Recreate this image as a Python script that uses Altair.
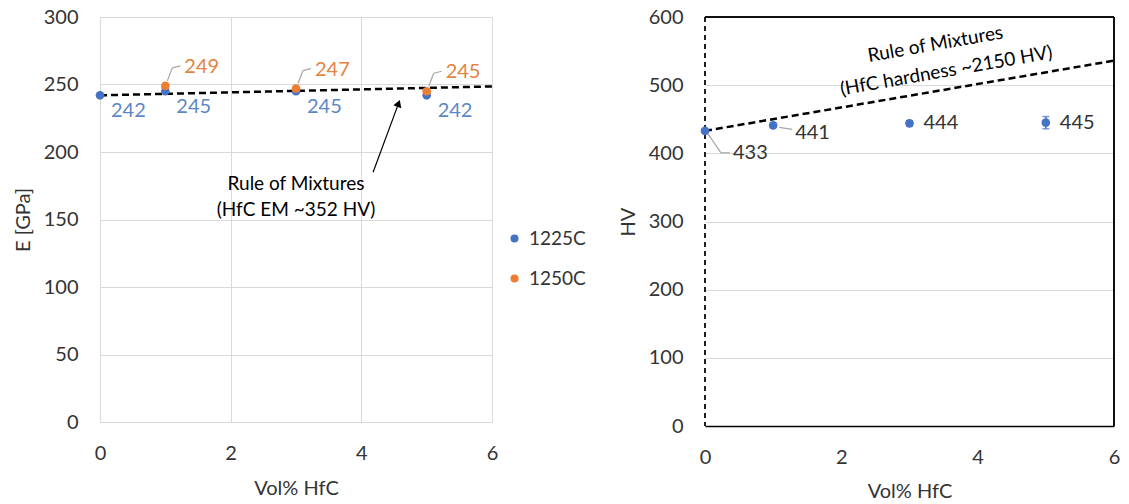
import altair as alt
import pandas as pd

FONT = "Lato"
BLUE = "#4472C4"
ORANGE = "#ED7D31"
BLUE_TXT = "#5B87C6"
ORANGE_TXT = "#E3843F"
TXT = "#333333"
GRID = "#d9d9d9"

# ---------------- Left panel data (Elastic modulus) ----------------
series_names = ["1225C", "1250C"]
vol_1225 = [0, 1, 3, 5]
E_1225 = [242, 245, 245, 242]
vol_1250 = [1, 3, 5]
E_1250 = [249, 247, 245]
rom_E_x = [0, 6]
rom_E_y = [242, 248.6]
rom_E_text = "Rule of Mixtures\n(HfC EM ~352 HV)"
rom_E_text_pos = [3.0, 176]
arrow_E_tail = [4.18, 185]
arrow_E_head = [4.57, 236]

# ---------------- Right panel data (Hardness) ----------------
vol_hv = [0, 1, 3, 5]
hv = [433, 441, 444, 445]
hv_err = [2, 2, 4, 9]
rom_hv_x = [0, 6]
rom_hv_y = [433, 536]
rom_hv_line1 = "Rule of Mixtures"
rom_hv_line2 = "(HfC hardness ~2150 HV)"
rom_hv_pos1 = [3.38, 560]
rom_hv_pos2 = [3.54, 521]

x_ticks = [0, 2, 4, 6]
E_ticks = [0, 50, 100, 150, 200, 250, 300]
HV_ticks = [0, 100, 200, 300, 400, 500, 600]

# ---------------- tables ----------------
pts = pd.DataFrame({
    "vol": vol_1225 + vol_1250,
    "E": E_1225 + E_1250,
    "series": [series_names[0]] * len(vol_1225) + [series_names[1]] * len(vol_1250),
})
pts_b = pts[pts.series == "1225C"]
pts_o = pts[pts.series == "1250C"]
romE = pd.DataFrame({"vol": rom_E_x, "E": rom_E_y})
arrowE = pd.DataFrame({"x": [arrow_E_tail[0]], "y": [arrow_E_tail[1]],
                       "x2": [arrow_E_head[0]], "y2": [arrow_E_head[1]]})
annE = pd.DataFrame({"x": [rom_E_text_pos[0]], "y": [rom_E_text_pos[1]], "t": [rom_E_text]})

hvdf = pd.DataFrame({"vol": vol_hv, "hv": hv, "err": hv_err})
hvdf["lo"] = hvdf.hv - hvdf.err
hvdf["hi"] = hvdf.hv + hvdf.err
romH = pd.DataFrame({"vol": rom_hv_x, "hv": rom_hv_y})
annH = pd.DataFrame({"x": [rom_hv_pos1[0], rom_hv_pos2[0]],
                     "y": [rom_hv_pos1[1], rom_hv_pos2[1]],
                     "t": [rom_hv_line1, rom_hv_line2]})

ax_common = dict(labelFont=FONT, labelFontSize=20, labelColor=TXT,
                 titleFont=FONT, titleFontSize=20, titleColor=TXT,
                 titleFontWeight="normal", tickSize=0, gridColor=GRID,
                 gridWidth=1, labelFlush=False, format="d")

xE = alt.X("vol:Q", scale=alt.Scale(domain=[0, 6], nice=False),
           axis=alt.Axis(values=x_ticks, title="Vol% HfC", domain=False,
                         labelPadding=21, titlePadding=15, **ax_common))
yE = alt.Y("E:Q", scale=alt.Scale(domain=[0, 300], nice=False),
           axis=alt.Axis(values=E_ticks, title="E [GPa]", domain=False,
                         labelPadding=22, titlePadding=10, **ax_common))

lineE = alt.Chart(romE).mark_line(color="black", strokeDash=[7, 4], strokeWidth=2.5).encode(x=xE, y=yE)
ptsE = alt.Chart(pts).mark_circle(size=75, opacity=1).encode(
    x=xE, y=yE,
    color=alt.Color("series:N",
                    scale=alt.Scale(domain=series_names, range=[BLUE, ORANGE]),
                    legend=alt.Legend(title=None, orient="none", legendX=405, legendY=212,
                                      symbolType="circle", symbolSize=64,
                                      labelFont=FONT, labelFontSize=19, labelColor=TXT,
                                      rowPadding=20, labelOffset=5)))
lblB = alt.Chart(pts_b).mark_text(align="left", baseline="middle", dx=11, dy=16,
                                  font=FONT, fontSize=20, color=BLUE_TXT).encode(
    x=xE, y=yE, text="E:Q")
lblO = alt.Chart(pts_o).mark_text(align="left", baseline="middle", dx=19, dy=-19,
                                  font=FONT, fontSize=20, color=ORANGE_TXT).encode(
    x=xE, y=yE, text="E:Q")
leadO1 = alt.Chart(pts_o).mark_rule(color="#a6a6a6", strokeWidth=1.2,
                                    xOffset=2, yOffset=-5, x2Offset=7, y2Offset=-18).encode(
    x=xE, y=yE, x2="vol:Q", y2="E:Q")
leadO2 = alt.Chart(pts_o).mark_rule(color="#a6a6a6", strokeWidth=1.2,
                                    xOffset=7, yOffset=-18, x2Offset=15, y2Offset=-20).encode(
    x=xE, y=yE, x2="vol:Q", y2="E:Q")
annTxtE = alt.Chart(annE).mark_text(align="center", baseline="middle", font=FONT, fontSize=19,
                                    color="black", lineBreak="\n", lineHeight=26).encode(
    x=alt.X("x:Q", scale=alt.Scale(domain=[0, 6])), y=alt.Y("y:Q", scale=alt.Scale(domain=[0, 300])),
    text="t:N")
arrowLine = alt.Chart(arrowE).mark_rule(color="black", strokeWidth=1.2).encode(
    x="x:Q", y="y:Q", x2="x2:Q", y2="y2:Q")
arrowHead = alt.Chart(arrowE).mark_point(shape="triangle-up", filled=True, color="black",
                                         size=70, angle=20, opacity=1).encode(
    x="x2:Q", y="y2:Q")

left = alt.layer(lineE, ptsE, lblB, leadO1, leadO2, lblO, annTxtE, arrowLine, arrowHead).properties(
    width=392, height=405).resolve_scale(x="shared", y="shared")

# ---------------- right ----------------
xH = alt.X("vol:Q", scale=alt.Scale(domain=[0, 6], nice=False),
           axis=alt.Axis(values=x_ticks, title="Vol% HfC", domain=True, domainColor="black",
                         domainWidth=1.5, labelPadding=21, titlePadding=14, **ax_common))
yH = alt.Y("hv:Q", scale=alt.Scale(domain=[0, 600], nice=False),
           axis=alt.Axis(values=HV_ticks, title="HV", domain=False,
                         labelPadding=22, titlePadding=10, **ax_common))

vdash = alt.Chart(romH).mark_rule(color="black", strokeDash=[5, 4], strokeWidth=1.3).encode(x=alt.datum(0))
topB = alt.Chart(romH).mark_rule(color="black", strokeWidth=1.5).encode(y=alt.datum(600))
rightB = alt.Chart(romH).mark_rule(color="black", strokeWidth=1.5).encode(x=alt.datum(6))
lineH = alt.Chart(romH).mark_line(color="black", strokeDash=[7, 4], strokeWidth=2.5).encode(x=xH, y=yH)
errH = alt.Chart(hvdf).mark_rule(color=BLUE, strokeWidth=1.5).encode(x=xH, y="lo:Q", y2="hi:Q")
capLo = alt.Chart(hvdf).mark_tick(color=BLUE, orient="horizontal", size=7, thickness=1.5).encode(x=xH, y="lo:Q")
capHi = alt.Chart(hvdf).mark_tick(color=BLUE, orient="horizontal", size=7, thickness=1.5).encode(x=xH, y="hi:Q")
ptsH = alt.Chart(hvdf).mark_circle(size=75, color=BLUE, opacity=1).encode(x=xH, y=yH)

lab0 = alt.Chart(hvdf[hvdf.vol == 0]).mark_text(align="left", baseline="middle", dx=28, dy=22,
                                               font=FONT, fontSize=20, color=TXT).encode(x=xH, y=yH, text="hv:Q")
lab1 = alt.Chart(hvdf[hvdf.vol == 1]).mark_text(align="left", baseline="middle", dx=22, dy=8,
                                               font=FONT, fontSize=20, color=TXT).encode(x=xH, y=yH, text="hv:Q")
lab35 = alt.Chart(hvdf[hvdf.vol >= 3]).mark_text(align="left", baseline="middle", dx=14, dy=0,
                                                font=FONT, fontSize=20, color=TXT).encode(x=xH, y=yH, text="hv:Q")
lead0a = alt.Chart(hvdf[hvdf.vol == 0]).mark_rule(color="#a6a6a6", strokeWidth=1.2,
                                                  xOffset=3, yOffset=3, x2Offset=16, y2Offset=22).encode(
    x=xH, y=yH, x2="vol:Q", y2="hv:Q")
lead0b = alt.Chart(hvdf[hvdf.vol == 0]).mark_rule(color="#a6a6a6", strokeWidth=1.2,
                                                  xOffset=16, yOffset=22, x2Offset=25, y2Offset=22).encode(
    x=xH, y=yH, x2="vol:Q", y2="hv:Q")
lead1 = alt.Chart(hvdf[hvdf.vol == 1]).mark_rule(color="#a6a6a6", strokeWidth=1.2,
                                                 xOffset=6, yOffset=2, x2Offset=19, y2Offset=4).encode(
    x=xH, y=yH, x2="vol:Q", y2="hv:Q")
annTxtH = alt.Chart(annH).mark_text(align="center", baseline="middle", font=FONT, fontSize=19,
                                    color="black", angle=350).encode(
    x=alt.X("x:Q", scale=alt.Scale(domain=[0, 6])), y=alt.Y("y:Q", scale=alt.Scale(domain=[0, 600])),
    text="t:N")

right = alt.layer(vdash, lineH, errH, capLo, capHi, ptsH, lead0a, lead0b, lead1,
                  lab0, lab1, lab35, annTxtH, topB, rightB).properties(
    width=409, height=409, view=alt.ViewConfig(stroke=None))

chart = alt.hconcat(left, right, spacing=119).properties(
    padding={"left": 12, "top": 6, "right": 5, "bottom": 5}
).configure_view(stroke="black", strokeWidth=1.5).configure(background="white")

chart.save("out.html", embed_options={"renderer": "svg", "actions": False})
